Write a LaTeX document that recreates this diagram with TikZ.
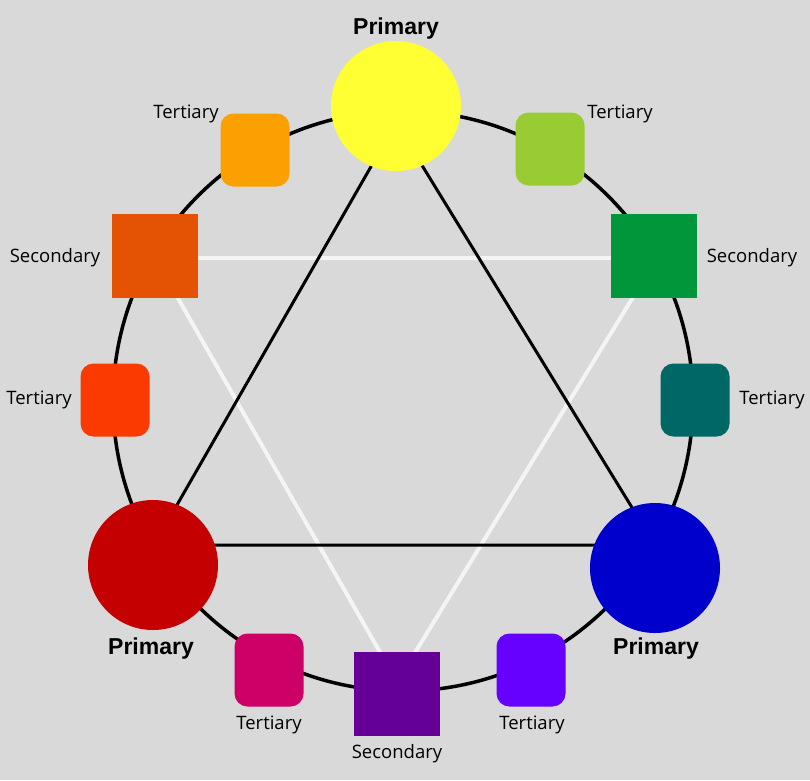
\documentclass[tikz,border=0pt]{standalone}
\usepackage{fontspec}
\setmainfont{Open Sans}
\newfontfamily\primaryfont{Liberation Sans}

\definecolor{wheelbg}{HTML}{D9D9D9}
\definecolor{wheelyellow}{HTML}{FFFF33}
\definecolor{wheelred}{HTML}{C40000}
\definecolor{wheelblue}{HTML}{0000CC}
\definecolor{wheelorangered}{HTML}{E45204}
\definecolor{wheelgreen}{HTML}{00963A}
\definecolor{wheelpurple}{HTML}{650097}
\definecolor{wheelorange}{HTML}{FAA000}
\definecolor{wheellime}{HTML}{99CC33}
\definecolor{wheelvermilion}{HTML}{FA3A00}
\definecolor{wheelteal}{HTML}{006767}
\definecolor{wheelmagenta}{HTML}{CC0066}
\definecolor{wheelviolet}{HTML}{6600FF}
\definecolor{wheelwhite}{HTML}{F4F4F4}

\begin{document}
\begin{tikzpicture}[x=1pt,y=-1pt]
        \tikzstyle{ring}=[line width=3.5pt,draw=black]
        \tikzstyle{primary}=[circle,minimum size=130pt,inner sep=0pt]
        \tikzstyle{secondary}=[rectangle,minimum width=86pt,minimum height=84pt,inner sep=0pt]
        \tikzstyle{tertiary}=[rectangle,rounded corners=13pt,minimum width=69pt,minimum height=73pt,inner sep=0pt]
        \tikzstyle{black link}=[line width=3pt,draw=black]
        \tikzstyle{white link}=[line width=4pt,draw=wheelwhite]
        \tikzstyle{annot}=[inner sep=0pt,font=\fontsize{18.5}{21}\selectfont]
        \tikzstyle{primary annot}=[inner sep=0pt,font=\primaryfont\bfseries\fontsize{23}{26}\selectfont]

        % Background
        \fill[wheelbg] (0,0) rectangle (810,780);

        % Draw the ring
        \draw[ring] (403,401) circle[radius=290pt];

        % Corners of the two triangles
        \coordinate (P-1) at (396,123);
        \coordinate (P-2) at (154,545);
        \coordinate (P-3) at (655,545);
        \coordinate (S-1) at (155,258);
        \coordinate (S-2) at (657,258);
        \coordinate (S-3) at (397,682);

        % Connect the secondaries, then the primaries
        \draw[white link] (S-1) -- (S-2) -- (S-3) -- cycle;
        \draw[black link] (P-1) -- (P-2) -- (P-3) -- cycle;

        % Draw the primary colours
        \foreach \name/\x/\y/\col/\lx/\ly in {Y/396/106/wheelyellow/396/29,
                R/153/565/wheelred/151/649, B/655/568/wheelblue/656/649}
        {
            \node[primary, fill=\col] (\name) at (\x,\y) {};
            \node[primary annot] (\name-l) at (\lx,\ly) {Primary};
        }

        % Draw the secondary colours
        \foreach \name/\x/\y/\col/\lx/\ly in {1/155/256/wheelorangered/55/258,
                2/654/256/wheelgreen/752/258, 3/397/694/wheelpurple/397/754}
        {
            \node[secondary, fill=\col] (Sec-\name) at (\x,\y) {};
            \node[annot] (Sec-\name-l) at (\lx,\ly) {Secondary};
        }

        % Draw the tertiary colours
        \foreach \name/\x/\y/\col/\lx/\ly in {1/255/150/wheelorange/186/114,
                2/550/149/wheellime/620/114, 3/115/400/wheelvermilion/39/400,
                4/695/400/wheelteal/772/400, 5/269/670/wheelmagenta/269/725,
                6/531/670/wheelviolet/532/725}
        {
            \node[tertiary, fill=\col] (Ter-\name) at (\x,\y) {};
            \node[annot] (Ter-\name-l) at (\lx,\ly) {Tertiary};
        }

        \useasboundingbox (0,0) rectangle (810,780);
\end{tikzpicture}
\end{document}
